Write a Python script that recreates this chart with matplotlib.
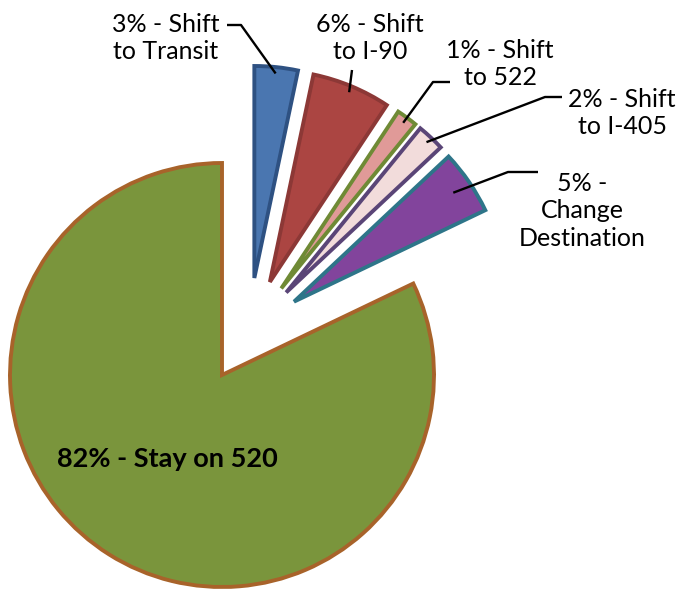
import numpy as np
import matplotlib
matplotlib.use('Agg')
import matplotlib.pyplot as plt

# slice data (labels carry the rounded figures)
labels = ['3% - Shift\nto Transit', '6% - Shift\nto I-90', '1% - Shift\nto 522',
          '2% - Shift\nto I-405', '5% -\nChange\nDestination', '82% - Stay on 520']
shares = [3.3, 6.0, 1.6, 2.1, 4.9, 82.1]
fills = ['#4a76b0', '#ab4542', '#e09a98', '#f2dcdb', '#82449c', '#7a953c']
edges = ['#2e5182', '#8c3836', '#6f8a35', '#5a4577', '#2e7589', '#a8632a']

# layout (pixel units, y measured up from bottom)
W, H = 695, 593
center = (222, 218)
radius = 212
explode = [55, 55, 55, 55, 55, 0]   # pie explode is in data units here
group_shift = 50
text_pos = [(166, 555), (370, 555), (500, 529), (622, 480), (582, 382), (167, 134)]
leader_end = [(227, 568), None, (450, 511), (562, 496), (538, 421), None]
leader_elbow = [(241, 568), (352, 523), (433, 511), (545, 496), (508, 421), None]
anchor_frac = [0.97, 0.97, 0.97, 0.97, 0.91, None]

plt.rcParams['font.family'] = ['Lato', 'DejaVu Sans']

fig = plt.figure(figsize=(W / 100, H / 100), dpi=100)
ax = fig.add_axes([0, 0, 1, 1])

wedges, _ = ax.pie(shares, colors=fills, explode=explode, startangle=90,
                   counterclock=False, center=center, radius=radius, frame=True,
                   wedgeprops=dict(linewidth=2.8, joinstyle='miter'))

# small slices are pulled out together along the group's bisector
small = wedges[:5]
mid = np.deg2rad((small[-1].theta1 + small[0].theta2) / 2)
dx, dy = group_shift * np.cos(mid), group_shift * np.sin(mid)
for w, ec in zip(wedges, edges):
    w.set_edgecolor(ec)
for w in small:
    w.set_center((w.center[0] + dx, w.center[1] + dy))

for i, w in enumerate(wedges):
    bold = i == 5
    ax.text(text_pos[i][0], text_pos[i][1], labels[i], ha='center', va='center',
            fontsize=19.5 if bold else 18, fontweight='bold' if bold else 'normal',
            linespacing=1.25, color='black')
    if anchor_frac[i] is None:
        continue
    a = np.deg2rad((w.theta1 + w.theta2) / 2)
    ax_ = w.center[0] + anchor_frac[i] * radius * np.cos(a)
    ay_ = w.center[1] + anchor_frac[i] * radius * np.sin(a)
    pts = [p for p in (leader_end[i], leader_elbow[i]) if p is not None] + [(ax_, ay_)]
    ax.plot([p[0] for p in pts], [p[1] for p in pts], color='black', lw=1.7,
            solid_capstyle='butt')

ax.set_xlim(0, W)
ax.set_ylim(0, H)
ax.set_aspect('equal')
ax.axis('off')

fig.savefig('out.png', dpi=100)
